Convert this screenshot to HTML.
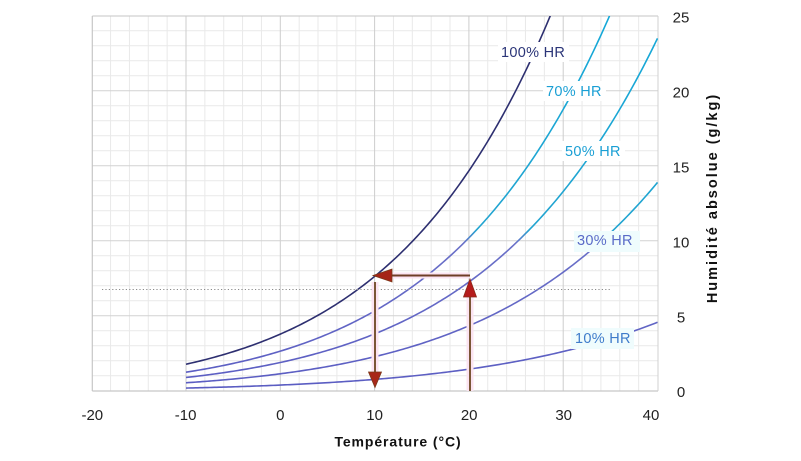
<!DOCTYPE html>
<html>
<head>
<meta charset="utf-8">
<style>
  html,body{margin:0;padding:0;background:#fff;}
  body{width:801px;height:461px;overflow:hidden;}
  svg{display:block;}
  text{font-family:"Liberation Sans","DejaVu Sans",sans-serif;}
</style>
</head>
<body>
<svg id="chart" width="801" height="461" viewBox="0 0 801 461" xmlns="http://www.w3.org/2000/svg">
  <defs>
    <clipPath id="plotclip"><rect x="92.3" y="16" width="565.7" height="375"/></clipPath>
    <linearGradient id="blueGrad" gradientUnits="userSpaceOnUse" x1="0" y1="391" x2="0" y2="16">
      <stop offset="0" stop-color="#5a5cc2"/>
      <stop offset="0.395" stop-color="#6a70c8"/>
      <stop offset="0.43" stop-color="#22a4d0"/>
      <stop offset="1" stop-color="#14a8d8"/>
    </linearGradient>
  </defs>
  <rect x="0" y="0" width="801" height="461" fill="#fff"/>
  <g id="grid"></g>
  <g id="curves" clip-path="url(#plotclip)"></g>
  <!-- dotted line -->
  <line x1="102" y1="289.5" x2="610" y2="289.5" stroke="#8a8a8a" stroke-width="1" stroke-dasharray="1.2,2.2"/>
  <!-- label boxes & labels -->
  <g id="labels">
    <rect x="498" y="42" width="71" height="20" fill="#ffffff"/>
    <text x="501" y="57" font-size="14.5" fill="#2b3578" letter-spacing="0.3">100% HR</text>
    <rect x="543" y="81" width="63" height="20" fill="#ffffff"/>
    <text x="546" y="96" font-size="14.5" fill="#1a9fd4" letter-spacing="0.3">70% HR</text>
    <rect x="562" y="141" width="63" height="20" fill="#ffffff"/>
    <text x="565" y="156" font-size="14.5" fill="#1a9fd4" letter-spacing="0.3">50% HR</text>
    <rect x="574" y="231" width="66" height="21" fill="#effcfd"/>
    <text x="577" y="245" font-size="14.5" fill="#5a6bc8" letter-spacing="0.3">30% HR</text>
    <rect x="571" y="328" width="63" height="21" fill="#effcfd"/>
    <text x="575" y="343" font-size="14.5" fill="#3f7ccb" letter-spacing="0.3">10% HR</text>
  </g>
  <!-- arrows -->
  <g id="arrows">
    <line x1="470" y1="297" x2="470" y2="391" stroke="#fbe4f2" stroke-width="7"/>
    <line x1="392" y1="275.5" x2="469" y2="275.5" stroke="#fbe4f2" stroke-width="6"/>
    <line x1="375" y1="282" x2="375" y2="372" stroke="#fbe4f2" stroke-width="7"/>
    <line x1="470" y1="297" x2="470" y2="391" stroke="#7a5636" stroke-width="2"/>
    <polygon points="470,279 463.5,297 476.5,297" fill="#b51c1c" stroke="#8a2a1a" stroke-width="0.8"/>
    <line x1="390" y1="275.5" x2="470" y2="275.5" stroke="#6e3e26" stroke-width="2"/>
    <polygon points="373,275.5 392,269 392,282" fill="#a52418" stroke="#7a3a1a" stroke-width="0.8"/>
    <line x1="375" y1="282" x2="375" y2="373" stroke="#7a5636" stroke-width="2"/>
    <polygon points="375,387.5 368.5,372 381.5,372" fill="#a8281a" stroke="#7a3a1a" stroke-width="0.8"/>
  </g>
  <!-- tick labels -->
  <g font-size="15" fill="#222" text-anchor="middle">
    <text x="92.3" y="420">-20</text>
    <text x="185.6" y="420">-10</text>
    <text x="280.3" y="420">0</text>
    <text x="374.6" y="420">10</text>
    <text x="469.2" y="420">20</text>
    <text x="563.7" y="420">30</text>
    <text x="651" y="420">40</text>
    <text x="681" y="22.5">25</text>
    <text x="681" y="97.5">20</text>
    <text x="681" y="172.5">15</text>
    <text x="681" y="247.5">10</text>
    <text x="681" y="322.5">5</text>
    <text x="681" y="397">0</text>
  </g>
  <text x="398" y="446.5" font-size="14" font-weight="bold" fill="#111" text-anchor="middle" letter-spacing="0.9">Température (°C)</text>
  <text transform="translate(717,198) rotate(-90)" x="0" y="0" font-size="14.5" font-weight="bold" fill="#111" text-anchor="middle" letter-spacing="2">Humidité absolue (g/kg)</text>
</svg>
<script>
(function(){
  var NS="http://www.w3.org/2000/svg";
  var X0=280.3, SX=9.43, Y0=390.7, SY=15;
  function X(t){return X0+t*SX;}
  function Y(w){return Y0-w*SY;}
  var grid=document.getElementById('grid');
  function line(x1,y1,x2,y2,c,w){var l=document.createElementNS(NS,'line');l.setAttribute('x1',x1);l.setAttribute('y1',y1);l.setAttribute('x2',x2);l.setAttribute('y2',y2);l.setAttribute('stroke',c);l.setAttribute('stroke-width',w);grid.appendChild(l);}
  var L=92.3,R=658,T=16,B=391;
  for(var t=-20;t<=40;t+=2){ if(t%10!==0) line(X(t),T,X(t),B,'#e9e9e9',1); }
  for(var w=0;w<=25;w++){ if(w%5!==0) line(L,Y(w),R,Y(w),'#e9e9e9',1); }
  for(var t=-10;t<=30;t+=10){ line(X(t),T,X(t),B,'#cdcdcd',1); }
  for(var w=5;w<=20;w+=5){ line(L,Y(w),R,Y(w),'#d2d2d2',1); }
  line(L,T,R,T,'#c6c6c6',1);
  line(L,B,R,B,'#c6c6c6',1.2);
  line(L,T,L,B,'#c6c6c6',1.2);
  line(R,T,R,B,'#d0d0d0',1);
  var curves=document.getElementById('curves');
  function ps(t){return 0.61094*Math.exp(17.625*t/(t+243.04));}
  function wabs(t,phi){var p=phi*ps(t);return 622*p/(101.325-p);}
  var phis=[0.1,0.3,0.5,0.7,1.0];
  phis.forEach(function(phi){
    var d='';
    for(var t=-10;t<=40.01;t+=0.25){
      var w=wabs(t,phi);
      var y=Y(w);
      d+=(d?'L':'M')+X(t).toFixed(2)+','+y.toFixed(2);
      if(y<T-5)break;
    }
    var p=document.createElementNS(NS,'path');
    p.setAttribute('d',d);p.setAttribute('fill','none');
    p.setAttribute('stroke',phi===1?'#2d2f70':'url(#blueGrad)');
    p.setAttribute('stroke-width','1.6');
    curves.appendChild(p);
  });
})();
</script>
</body>
</html>
